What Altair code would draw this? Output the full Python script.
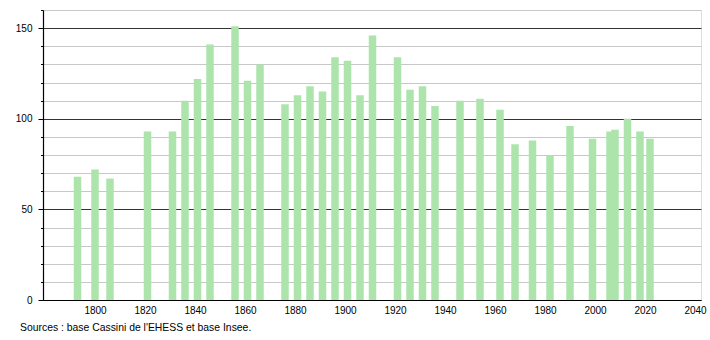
import altair as alt
import pandas as pd

years = [1793, 1800, 1806, 1821, 1831, 1836, 1841, 1846, 1856, 1861, 1866,
         1876, 1881, 1886, 1891, 1896, 1901, 1906, 1911, 1921, 1926, 1931,
         1936, 1946, 1954, 1962, 1968, 1975, 1982, 1990, 1999, 2006, 2008,
         2013, 2018, 2022]
population = [68, 72, 67, 93, 93, 110, 122, 141, 151, 121, 130,
              108, 113, 118, 115, 134, 132, 113, 146, 134, 116, 118,
              107, 110, 111, 105, 86, 88, 80, 96, 89, 93, 94,
              100, 93, 89]
x_ticks = [1800, 1820, 1840, 1860, 1880, 1900, 1920, 1940, 1960, 1980, 2000, 2020, 2040]
y_ticks = list(range(0, 161, 10))
source = "Sources : base Cassini de l'EHESS et base Insee."

df = pd.DataFrame({"year": years, "pop": population})

FONT = "Liberation Sans"

bars = alt.Chart(df).mark_bar(size=7.5, color="#ace4ac").encode(
    x=alt.X("year:Q",
            scale=alt.Scale(domain=[1779.2, 2042.4], nice=False, zero=False, padding=0),
            axis=alt.Axis(values=x_ticks, format="d", title=None, grid=False,
                          ticks=False, domainColor="#000", domainWidth=1.2,
                          labelFont=FONT, labelFontSize=10, labelColor="#000",
                          labelPadding=5, labelFlush=False)),
    y=alt.Y("pop:Q",
            scale=alt.Scale(domain=[0, 160], nice=False),
            axis=alt.Axis(values=y_ticks, title=None, grid=True,
                          gridColor={"condition": {"test": "datum.value % 50 === 0", "value": "#333333"}, "value": "#c8c8c8"},
                          gridWidth=1,
                          labelExpr="datum.value % 50 === 0 ? datum.label : ''",
                          tickColor="#000",
                          tickSize={"condition": {"test": "datum.value % 50 === 0", "value": 5}, "value": 2.5},
                          domainColor="#000", domainWidth=1.2,
                          labelFont=FONT, labelFontSize=10, labelColor="#000",
                          labelPadding=6)),
)

chart = bars.properties(
    width=658, height=290,
    title=alt.TitleParams(source, orient="bottom", anchor="start", frame="group",
                          font=FONT, fontSize=10.4, fontWeight="normal", color="#000",
                          dx=-23, offset=8),
    autosize=alt.AutoSizeParams(type="none"),
    padding={"left": 43, "top": 10, "right": 9, "bottom": 40},
).configure_view(stroke=None).configure(background="white")

chart.save("out.html", embed_options={"renderer": "svg", "actions": False})
